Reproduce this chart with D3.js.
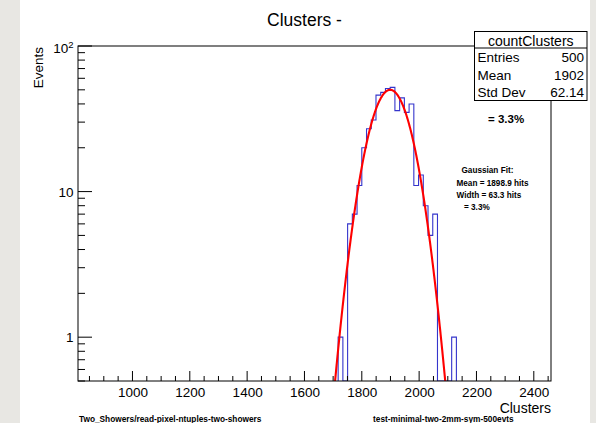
<!DOCTYPE html>
<html>
<head>
<meta charset="utf-8">
<script src="https://cdn.jsdelivr.net/npm/d3@7"></script>
<style>
  body { margin: 0; background: #e8e7e3; }
  svg { display: block; }
  text { font-family: "Liberation Sans", Arial, Helvetica, sans-serif; }
</style>
</head>
<body>
<svg id="chart" width="596" height="423"></svg>
<script>
// Histogram of cluster counts: lower bin edges and contents (bin width 16.5)
const binLow = [1717.5, 1734.0, 1750.5, 1767.0, 1783.5, 1800.0, 1816.5, 1833.0, 1849.5,
                1866.0, 1882.5, 1899.0, 1915.5, 1932.0, 1948.5, 1965.0, 1981.5, 1998.0,
                2014.5, 2031.0, 2047.5, 2064.0, 2080.5, 2097.0, 2113.5];
const binCounts = [1, 0, 6, 7, 11, 20, 27, 31, 46, 48, 51, 52, 36, 44, 35, 40, 11, 13,
                   8, 5, 7, 0, 0, 0, 1];
const binWidth = 16.5;

// Gaussian fit parameters
const fitAmplitude = 50;
const fitMean = 1898.9;
const fitSigma = 63.3;

// Axis ticks
const xMajorTicks = [1000, 1200, 1400, 1600, 1800, 2000, 2200, 2400];
const yDecades = [1, 10, 100];

// Statistics box and annotation texts
const statsTitle = "countClusters";
const statsRows = [["Entries", "500"], ["Mean", "1902"], ["Std Dev", "62.14"]];
const fitLines = ["Gaussian Fit:", "Mean = 1898.9 hits", "Width = 63.3 hits", "= 3.3%"];

const svg = d3.select("#chart");

// canvas
svg.append("rect").attr("x", 20).attr("y", 0).attr("width", 570).attr("height", 423)
  .attr("fill", "#ffffff");

const frame = { left: 78, right: 551, top: 46, bottom: 381 };
const x = d3.scaleLinear().domain([810, 2460]).range([frame.left, frame.right]);
const y = d3.scaleLog().domain([0.5, 100]).range([frame.bottom, frame.top]);

svg.append("defs").append("clipPath").attr("id", "frameClip")
  .append("rect").attr("x", frame.left).attr("y", frame.top)
  .attr("width", frame.right - frame.left).attr("height", frame.bottom - frame.top);

// histogram outline (empty bins drop to the frame bottom)
const yOf = v => v > 0.5 ? y(v) : frame.bottom;
let pts = [[x(binLow[0]), frame.bottom]];
binCounts.forEach((c, i) => {
  pts.push([x(binLow[i]), yOf(c)]);
  pts.push([x(binLow[i] + binWidth), yOf(c)]);
});
pts.push([x(binLow[binLow.length - 1] + binWidth), frame.bottom]);
svg.append("path")
  .attr("d", d3.line()(pts))
  .attr("fill", "none").attr("stroke", "#3535cc").attr("stroke-width", 1.1)
  .attr("clip-path", "url(#frameClip)");

// Gaussian fit curve
const fitX = d3.range(1650, 2150.01, 1);
svg.append("path")
  .attr("d", d3.line()
    .x(d => x(d))
    .y(d => y(Math.max(0.3, fitAmplitude * Math.exp(-0.5 * ((d - fitMean) / fitSigma) ** 2))))(fitX))
  .attr("fill", "none").attr("stroke", "#ff0000").attr("stroke-width", 2.1)
  .attr("clip-path", "url(#frameClip)");

// frame
svg.append("rect").attr("x", frame.left).attr("y", frame.top)
  .attr("width", frame.right - frame.left).attr("height", frame.bottom - frame.top)
  .attr("fill", "none").attr("stroke", "#000").attr("stroke-width", 1);

// x axis: ticks drawn inward
const xAxis = d3.axisBottom(x).tickValues(xMajorTicks).tickSize(0).tickPadding(6)
  .tickFormat(d3.format("d"));
const gx = svg.append("g").attr("transform", `translate(0,${frame.bottom})`).call(xAxis);
gx.select(".domain").remove();
gx.selectAll("text").attr("font-size", "13.5px").attr("fill", "#000")
  .attr("font-family", "Liberation Sans, Arial, sans-serif");
const xMinor = d3.range(850, 2460, 50);
svg.append("g").selectAll("line").data(xMinor).join("line")
  .attr("x1", d => x(d)).attr("x2", d => x(d))
  .attr("y1", frame.bottom).attr("y2", d => frame.bottom - (d % 200 === 0 ? 10 : 5))
  .attr("stroke", "#000").attr("stroke-width", 1);

// y axis: log ticks drawn inward
const yMinor = [];
[0.1, 1, 10].forEach(dec => d3.range(1, 10).forEach(m => {
  const v = dec * m;
  if (v >= 0.5 && v <= 100) yMinor.push(v);
}));
yMinor.push(100);
svg.append("g").selectAll("line").data(yMinor).join("line")
  .attr("x1", frame.left).attr("x2", d => frame.left + (yDecades.includes(d) ? 14 : 7))
  .attr("y1", d => y(d)).attr("y2", d => y(d))
  .attr("stroke", "#000").attr("stroke-width", 1);

const yLab = svg.append("g").attr("font-size", "13.5px").attr("text-anchor", "end");
yLab.append("text").attr("x", 73.5).attr("y", y(10) + 5).text("10");
yLab.append("text").attr("x", 73.5).attr("y", y(1) + 5).text("1");
const t100 = yLab.append("text").attr("x", 73.5).attr("y", y(100) + 7);
t100.append("tspan").text("10");
t100.append("tspan").attr("dy", -5).attr("font-size", "9.5px").text("2");

// axis titles
svg.append("text").attr("x", frame.right).attr("y", 413).attr("text-anchor", "end")
  .attr("font-size", "14px").text("Clusters");
svg.append("text").attr("transform", "translate(43,47) rotate(-90)")
  .attr("text-anchor", "end").attr("font-size", "13.5px").text("Events");

// title
svg.append("text").attr("x", 304.5).attr("y", 26).attr("text-anchor", "middle")
  .attr("font-size", "17.5px").text("Clusters -");

// statistics box
const sb = { left: 474.5, right: 587, top: 31.5, head: 48, bottom: 100.5 };
svg.append("rect").attr("x", sb.left).attr("y", sb.top)
  .attr("width", sb.right - sb.left).attr("height", sb.bottom - sb.top)
  .attr("fill", "#fff").attr("stroke", "#000").attr("stroke-width", 1);
svg.append("line").attr("x1", sb.left).attr("x2", sb.right)
  .attr("y1", sb.head).attr("y2", sb.head).attr("stroke", "#000");
svg.append("text").attr("x", (sb.left + sb.right) / 2).attr("y", 45.5)
  .attr("text-anchor", "middle").attr("font-size", "14px").text(statsTitle);
statsRows.forEach((r, i) => {
  const by = 62 + i * 17.5;
  svg.append("text").attr("x", sb.left + 3).attr("y", by).attr("font-size", "13.5px").text(r[0]);
  svg.append("text").attr("x", sb.right - 3).attr("y", by).attr("text-anchor", "end")
    .attr("font-size", "13.5px").text(r[1]);
});

// fit annotations
svg.append("text").attr("x", 488).attr("y", 123).attr("font-size", "11.5px")
  .attr("font-weight", "bold").text("= 3.3%");
const fitPos = [[461.5, 173], [456.5, 186], [456.5, 198], [464, 210]];
fitLines.forEach((s, i) => {
  svg.append("text").attr("x", fitPos[i][0]).attr("y", fitPos[i][1])
    .attr("font-size", "8.2px").attr("font-weight", "bold").text(s);
});

// footer labels
svg.append("text").attr("x", 79).attr("y", 421.5).attr("font-size", "8.3px")
  .attr("font-weight", "bold").text("Two_Showers/read-pixel-ntuples-two-showers");
svg.append("text").attr("x", 373).attr("y", 421.5).attr("font-size", "8.3px")
  .attr("font-weight", "bold").text("test-minimal-two-2mm-sym-500evts");
</script>
</body>
</html>
